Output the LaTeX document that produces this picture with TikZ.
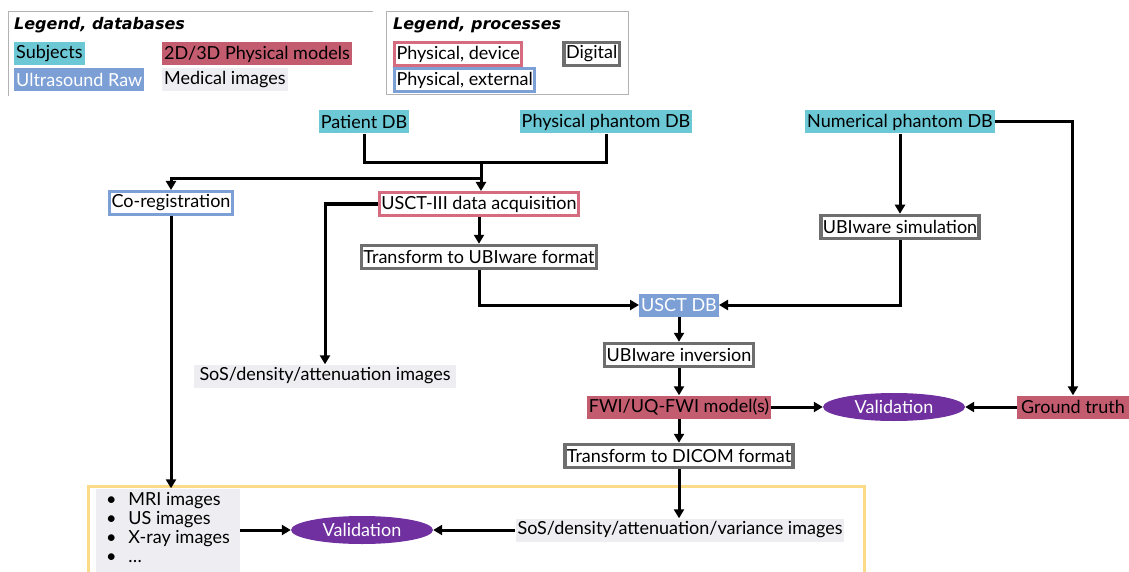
\documentclass[tikz,border=0pt]{standalone}
\usepackage{fontspec}
\setmainfont{Lato}
\newfontfamily\titlefont{DejaVu Sans}
\usetikzlibrary{arrows.meta, positioning, shapes.geometric}
\definecolor{subjcol}{HTML}{6CC8D4}
\definecolor{modelcol}{HTML}{C45C70}
\definecolor{rawcol}{HTML}{7C9FD5}
\definecolor{imgcol}{HTML}{EDEDF2}
\definecolor{devcol}{HTML}{D66B80}
\definecolor{digcol}{HTML}{6E6E6E}
\definecolor{valcol}{HTML}{7030A0}
\definecolor{framecol}{HTML}{FBDB88}
\tikzset{
  base/.style = {rectangle, inner sep=2pt, minimum height=23pt, font=\fontsize{18}{20}\selectfont},
  subject/.style = {base, fill=subjcol},
  model/.style = {base, fill=modelcol},
  raw/.style = {base, fill=rawcol, text=white},
  medimg/.style = {base, fill=imgcol},
  device/.style = {base, draw=devcol, line width=3pt, fill=white},
  external/.style = {base, draw=rawcol, line width=3pt, fill=white},
  digital/.style = {base, draw=digcol, line width=3.5pt, fill=white},
  valid/.style = {ellipse, fill=valcol, text=white, minimum width=142pt, minimum height=28pt, inner sep=0pt, font=\fontsize{18}{20}\selectfont},
  legtitle/.style = {anchor=west, inner sep=0pt, font=\fontsize{16}{18}\titlefont\bfseries\itshape},
  legframe/.style = {draw=gray!60, line width=1pt},
  arrow/.style = {line width=3pt, -{Triangle[length=9pt,width=10pt]}},
  link/.style = {line width=3pt}
}

\begin{document}
\begin{tikzpicture}[x=1pt, y=-1pt]
  \useasboundingbox (0,0) rectangle (1129,572);

  % Legenden
  \draw[legframe] (8,96) -- (8,12) -- (373,12);
  \node[legtitle] (legdb) at (14,25) {Legend, databases};
  \node[subject, anchor=west] (lsubj) at (14,54) {Subjects};
  \node[model, anchor=west] (lmodel) at (162,54) {2D/3D Physical models};
  \node[raw, anchor=west] (lraw) at (14,80) {Ultrasound Raw};
  \node[medimg, anchor=west] (limg) at (162,80) {Medical images};

  \draw[legframe] (386,12) rectangle (628,95);
  \node[legtitle] (legproc) at (393,25) {Legend, processes};
  \node[device, anchor=west] (ldev) at (393,54) {Physical, device};
  \node[digital, anchor=east] (ldig) at (621,54) {Digital};
  \node[external, anchor=west] (lext) at (393,80) {Physical, external};

  % Datenbanken oben
  \node[subject] (patient) at (364,122) {Patient DB};
  \node[subject] (physph) at (606,122) {Physical phantom DB};
  \node[subject] (numph) at (900,122) {Numerical phantom DB};

  % Hauptkette
  \node[external] (coreg) at (171,203) {Co-registration};
  \node[device] (acq) at (479,204) {USCT-III data acquisition};
  \node[digital] (ubifmt) at (479,257) {Transform to UBIware format};
  \node[digital] (ubisim) at (900,227) {UBIware simulation};
  \node[raw] (usctdb) at (679,305) {USCT DB};
  \node[medimg, inner xsep=6pt] (sosimg) at (325,376) {SoS/density/attenuation images};
  \node[digital] (ubiinv) at (679,355) {UBIware inversion};
  \node[model] (fwi) at (679,407) {FWI/UQ-FWI model(s)};
  \node[valid] (valtop) at (894,407) {Validation};
  \node[model, anchor=east, inner xsep=4pt] (truth) at (1129,407) {Ground truth};
  \node[digital] (dicom) at (679,456) {Transform to DICOM format};

  % Vergleich unten
  \draw[framecol, line width=3pt] (88,486) rectangle (864,600);
  \node[medimg, align=left, inner sep=3pt, minimum width=144pt, font=\fontsize{18}{20}\selectfont] (imglist) at (168,530)
    {\begin{tabular}{@{}l@{\hspace{12pt}}l@{}}
      \textbullet & MRI images\\[-1pt]
      \textbullet & US images\\[-1pt]
      \textbullet & X-ray images\\[-1pt]
      \textbullet & \dots
    \end{tabular}};
  \node[valid] (valbot) at (362,530) {Validation};
  \node[medimg] (sosvar) at (680,530) {SoS/density/attenuation/variance images};

  % Verbindungen
  \coordinate (split) at (481,163);
  \coordinate (fork) at (481,179);
  \draw[link] (patient) -- (patient |- split) -- (physph |- split) -- (physph);
  \draw[arrow] (split) -- (split |- acq.north);
  \draw[arrow] (fork) -| (coreg);
  \draw[arrow] (acq) -| (sosimg);
  \draw[arrow] (acq) -- (ubifmt);
  \draw[arrow] (ubifmt) |- (usctdb);
  \draw[arrow] (numph) -- (ubisim);
  \draw[arrow] (ubisim) |- (usctdb);
  \draw[arrow] (numph) -| (truth);
  \draw[arrow] (usctdb) -- (ubiinv);
  \draw[arrow] (ubiinv) -- (fwi);
  \draw[arrow] (fwi) -- (valtop);
  \draw[arrow] (truth) -- (valtop);
  \draw[arrow] (fwi) -- (dicom);
  \draw[arrow] (dicom) -- (dicom |- sosvar.north);
  \draw[arrow] (coreg) -- (coreg |- imglist.north);
  \draw[arrow] (imglist) -- (valbot);
  \draw[arrow] (sosvar) -- (valbot);
\end{tikzpicture}
\end{document}
